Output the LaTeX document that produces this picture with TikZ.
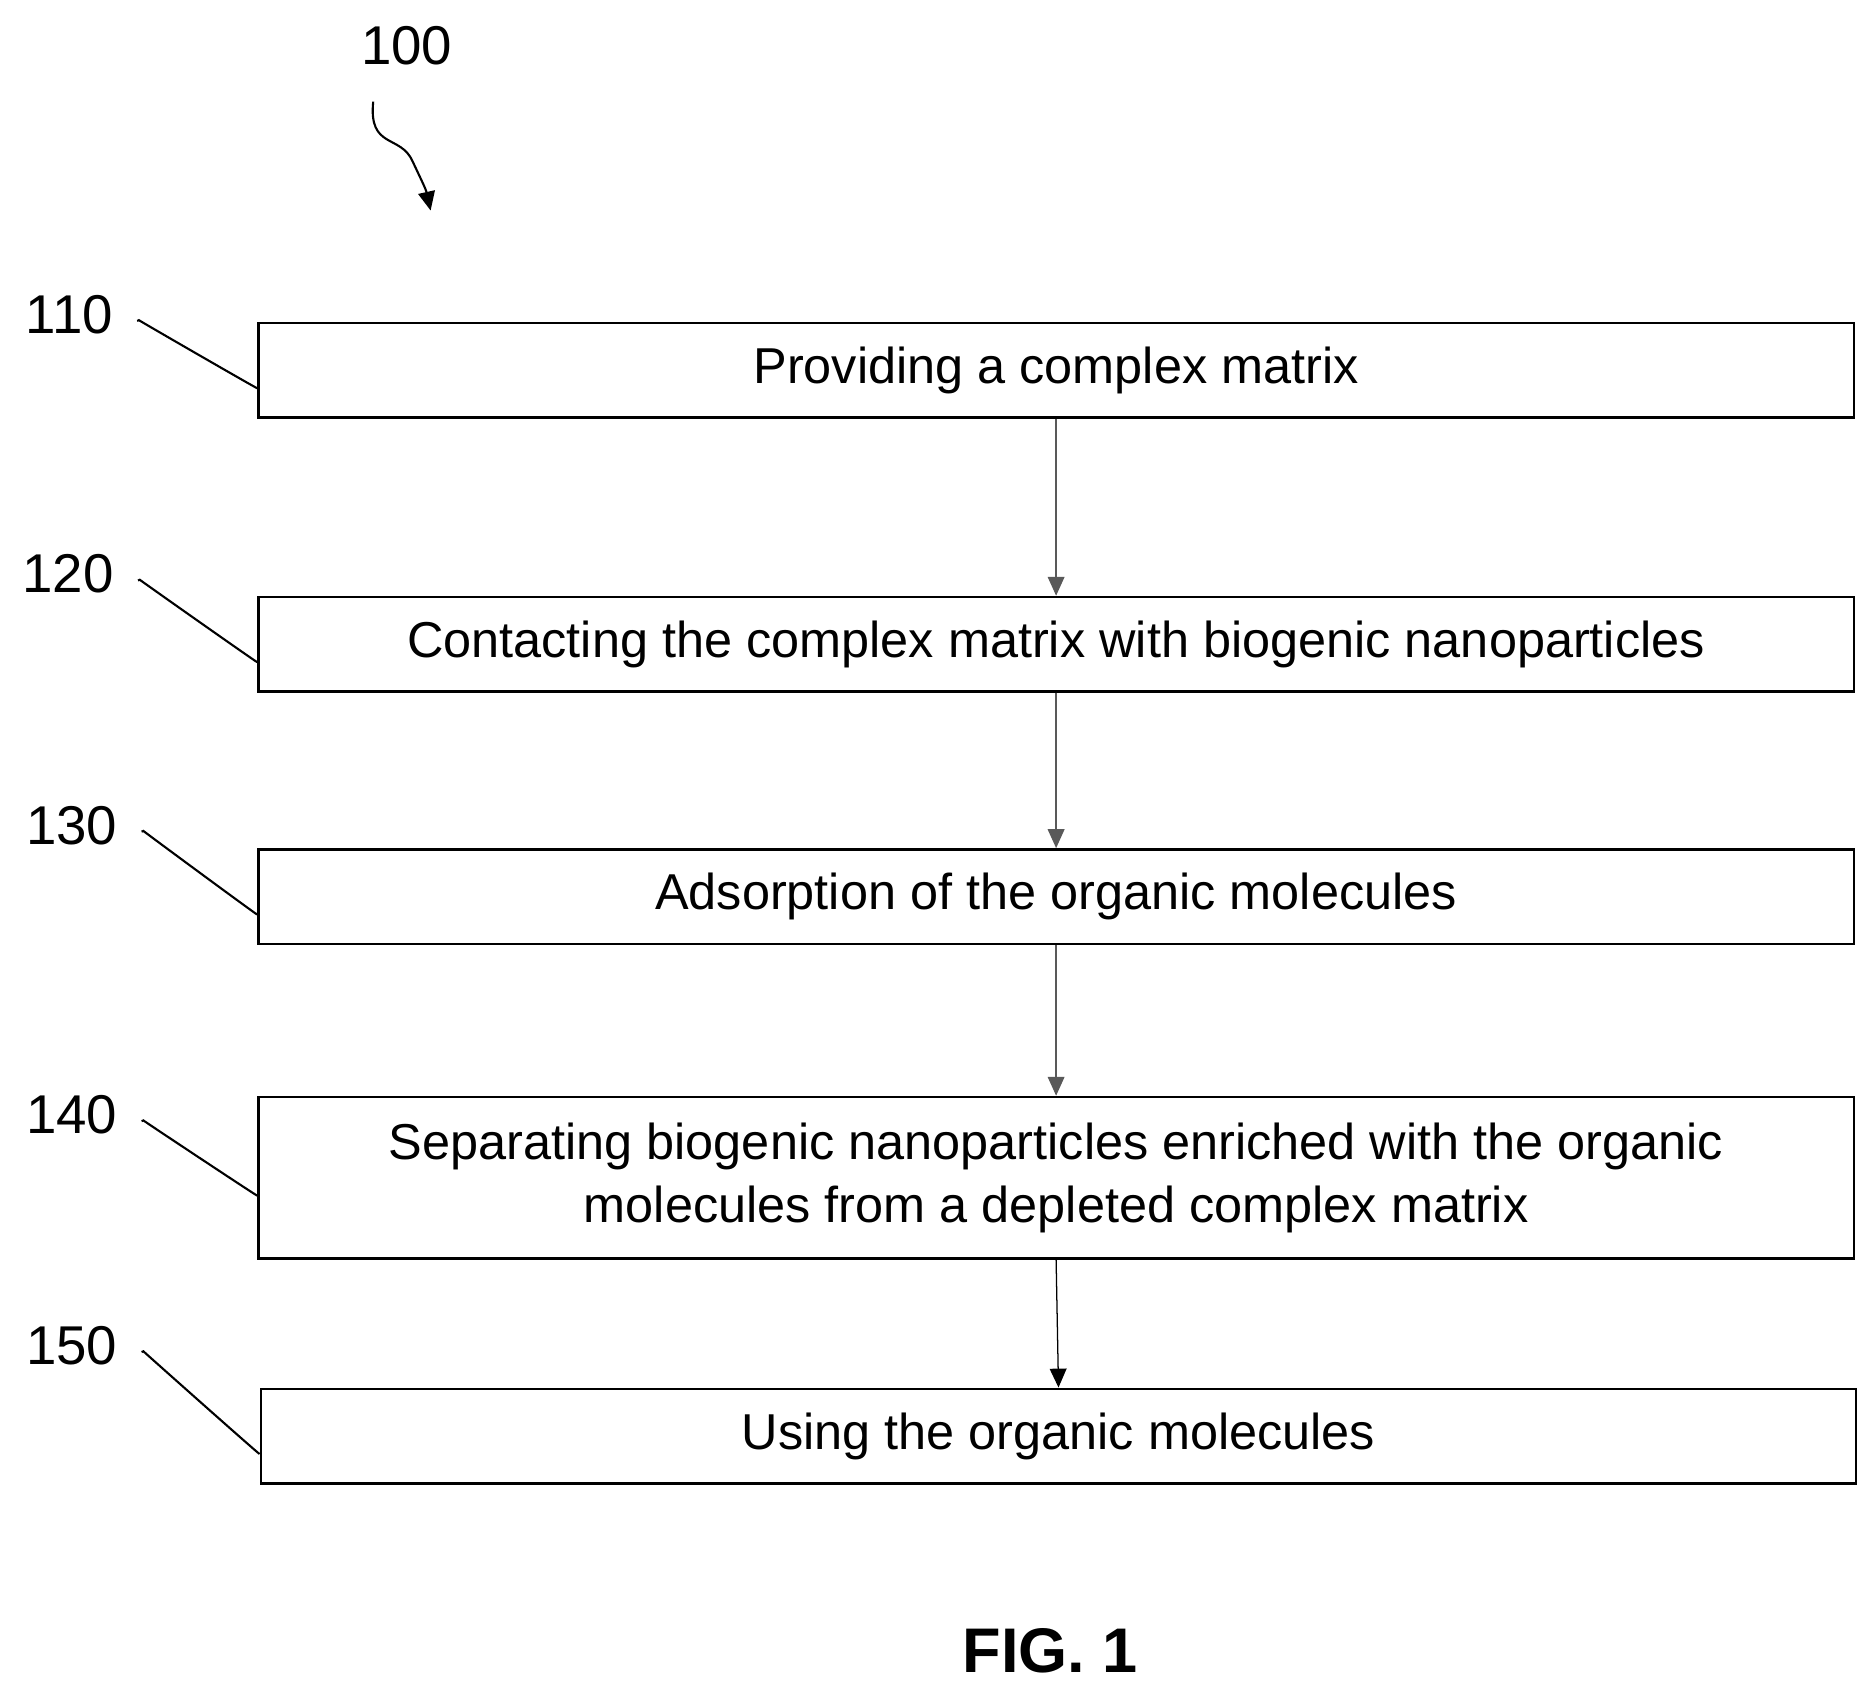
\documentclass[tikz,border=0pt]{standalone}
\usepackage{fontspec}
\setmainfont{Liberation Sans}
\usetikzlibrary{arrows.meta}
\begin{document}
\begin{tikzpicture}[x=0.02cm,y=-0.02cm,
  box/.style={draw,line width=1.2pt,minimum height=1.58cm,inner sep=0pt,font=\fontsize{24}{30}\selectfont,align=center},
  lab/.style={font=\fontsize{26}{30}\selectfont},
  lead/.style={line width=1pt},
  arr/.style={line width=0.6pt,-{Triangle[length=9pt,width=8pt]}}]
\useasboundingbox (0,0) rectangle (1560,1411);
\node[lab] (n100) at (340,38) {100};
\coordinate (a1) at (312,85);
\coordinate (a2) at (360,176);
\draw[lead,-{Triangle[length=9pt,width=8pt]}] (a1) .. controls (308,125) and (335,112) .. (345,135) .. controls (352,150) and (356,158) .. (a2);
\node[box,minimum width=26.68cm,anchor=north west] (b1) at (215,269) {Providing a complex matrix};
\node[box,minimum width=26.68cm,anchor=north west] (b2) at (215,498) {Contacting the complex matrix with biogenic nanoparticles};
\node[box,minimum width=26.68cm,anchor=north west] (b3) at (215,709) {Adsorption of the organic molecules};
\node[box,minimum width=26.68cm,minimum height=2.7cm,anchor=north west] (b4) at (215,916) {Separating biogenic nanoparticles enriched with the organic\\molecules from a depleted complex matrix};
\node[box,minimum width=26.68cm,anchor=north west] (b5) at (217,1160) {Using the organic molecules};
\node[lab] (l1) at (58,263) {110};
\node[lab] (l2) at (57,480) {120};
\node[lab] (l3) at (60,690) {130};
\node[lab] (l4) at (60,932) {140};
\node[lab] (l5) at (60,1125) {150};
\foreach \l/\b in {l1/b1,l2/b2,l3/b3,l4/b4,l5/b5}{
  \draw[lead] ([xshift=8pt,yshift=-3pt]\l.east) .. controls +(1.6,0.1) and +(-0.4,-0.5) .. +(1.5,-0.6) .. controls +(0.4,0.5) and +(-0.8,0) .. ([yshift=-0.3cm]\b.west);
}
\draw[arr,gray!70!black] (b1.south) -- (b2.north);
\draw[arr,gray!70!black] (b2.south) -- (b3.north);
\draw[arr,gray!70!black] (b3.south) -- (b4.north);
\draw[arr] (b4.south) -- (b5.north);
\node[font=\fontsize{30}{34}\selectfont\bfseries] (fig) at (878,1380) {FIG. 1};
\end{tikzpicture}
\end{document}
